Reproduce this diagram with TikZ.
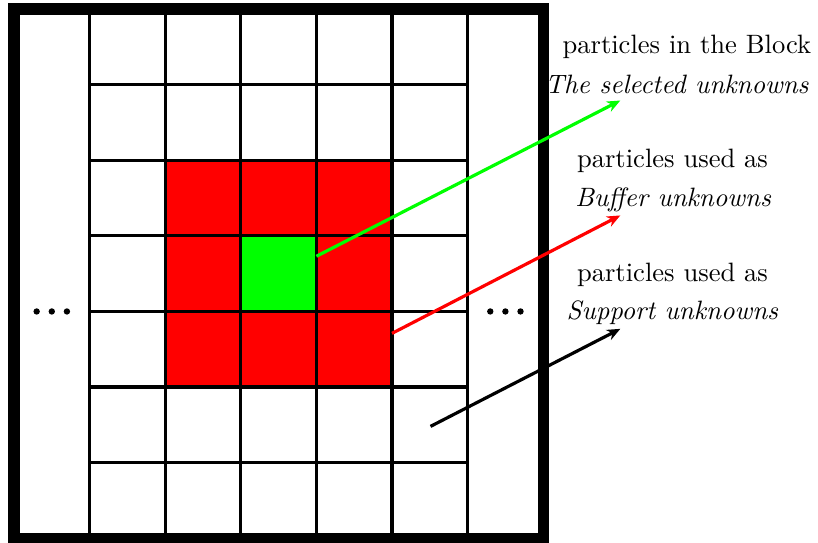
\documentclass[tikz,border=0pt]{standalone}
\usepackage{tikz}
\usetikzlibrary{arrows.meta,positioning}
\definecolor{cblock}{HTML}{00FF00}
\definecolor{cbuf}{HTML}{FF0000}
\tikzset{
  gline/.style={line width=1.2pt},
  frame/.style={line width=4.2pt},
  lbl/.style={anchor=base, inner sep=0pt},
  ptr/.style={-{Stealth[length=5pt, width=4.2pt, inset=1.6pt]}, line width=1.2pt},
  dotc/.style={fill=black},
}

\begin{document}
\begin{tikzpicture}
  \useasboundingbox (-0.185,-0.05) rectangle (10.635,7.12);
  % buffer and block cells
  \fill[cbuf] (2,2) rectangle (5,5);
  \fill[cblock] (3,3) rectangle (4,4);
  % grid
  \foreach \x in {1,...,6}
     \draw[gline] (\x,0) -- (\x,7);
  \foreach \y in {1,...,6}
     \draw[gline] (1,\y) -- (6,\y);
  \draw[frame] (0,0) rectangle (7,7);
  % dots in the outer columns
  \foreach \x in {-0.2,0,0.2} {
     \fill[dotc] (0.5+\x,3) circle (1.2pt);
     \fill[dotc] (6.5+\x,3) circle (1.2pt);
  }
  % labels
  \node[lbl] (blk) at (8.90,6.41) {particles in the Block};
  \node[lbl] (blki) at (8.77,5.88) {\textit{The selected unknowns}};
  \node[lbl] (buf) at (8.71,4.91) {particles used as};
  \node[lbl] (bufi) at (8.72,4.39) {\textit{Buffer unknowns}};
  \node[lbl] (sup) at (8.71,3.40) {particles used as};
  \node[lbl] (supi) at (8.71,2.90) {\textit{Support unknowns}};
  % pointers
  \coordinate (gs) at (4,3.73);
  \coordinate (ge) at (8.02,5.79);
  \coordinate (rs) at (5,2.71);
  \coordinate (re) at (8.02,4.27);
  \coordinate (ks) at (5.51,1.48);
  \coordinate (ke) at (8.02,2.77);
  \draw[ptr, cblock] (gs) -- (ge);
  \draw[ptr, cbuf] (rs) -- (re);
  \draw[ptr, black] (ks) -- (ke);
\end{tikzpicture}
\end{document}
